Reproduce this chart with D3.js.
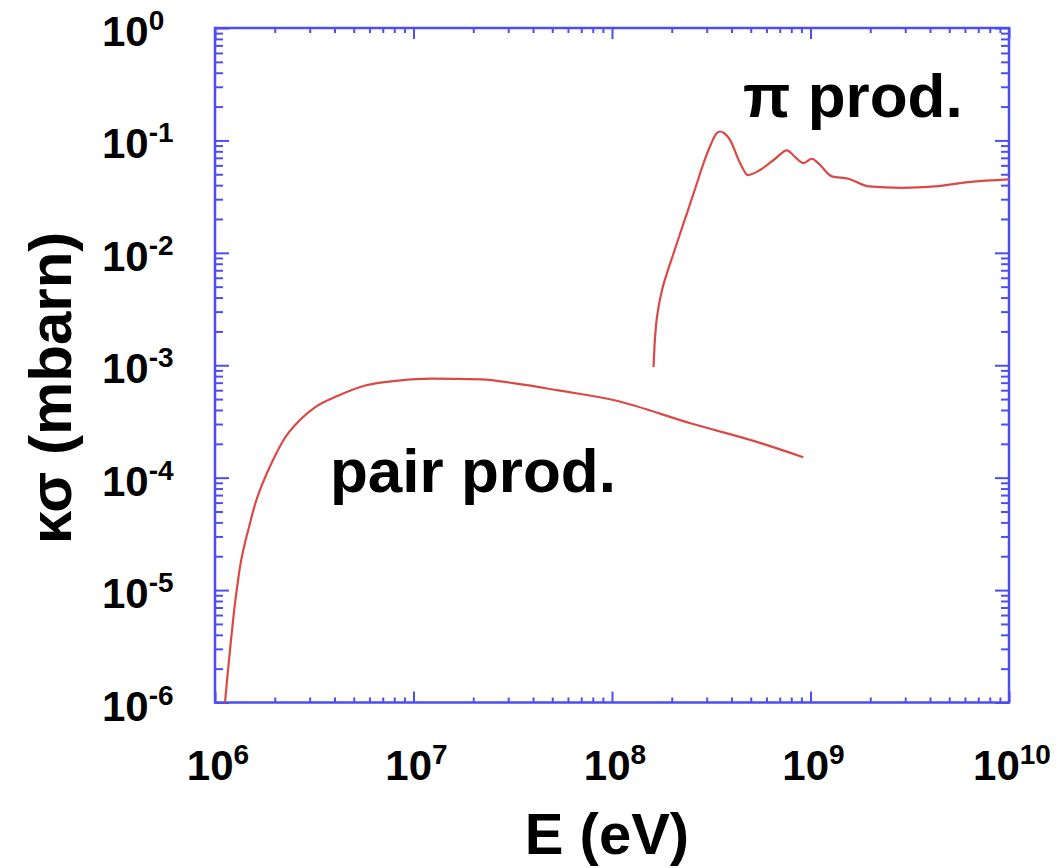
<!DOCTYPE html>
<html>
<head>
<meta charset="utf-8">
<script src="https://cdn.jsdelivr.net/npm/d3@7"></script>
<style>
  html, body { margin: 0; padding: 0; background: #ffffff; }
  svg { display: block; }
  text { font-family: "Liberation Sans", Arial, Helvetica, sans-serif; font-weight: bold; fill: #000; }
</style>
</head>
<body>
<svg id="chart" width="1062" height="868"></svg>
<script>
// ---- Data ----
const pairEnergy = [1.123e6, 1.163e6, 1.204e6, 1.246e6, 1.291e6, 1.336e6, 1.400e6, 1.484e6, 1.572e6, 1.685e6,
                    1.828e6, 2.006e6, 2.20e6, 2.68e6, 3.2e6, 4.19e6, 5.71e6, 8.4e6, 1.23e7, 2.2e7,
                    3.25e7, 5.37e7, 1.04e8, 2.51e8, 5.47e8, 9.2e8];
const pairSigma  = [1.0e-6, 1.945e-6, 3.6e-6, 6.38e-6, 1.045e-5, 1.60e-5, 2.42e-5, 3.64e-5, 5.39e-5, 7.77e-5,
                    1.10e-4, 1.56e-4, 2.12e-4, 3.26e-4, 4.24e-4, 5.38e-4, 6.6e-4, 7.3e-4, 7.6e-4, 7.5e-4,
                    6.9e-4, 5.97e-4, 4.86e-4, 3.03e-4, 2.06e-4, 1.52e-4];

const pionEnergy = [1.619e8, 1.638e8, 1.667e8, 1.716e8, 1.786e8, 1.893e8, 2.029e8, 2.20e8, 2.415e8, 2.65e8,
                    2.907e8, 3.153e8, 3.341e8, 3.50e8, 3.666e8, 3.93e8, 4.415e8, 4.84e8, 5.57e8, 6.64e8,
                    7.60e8, 8.38e8, 9.22e8, 1.016e9, 1.10e9, 1.28e9, 1.55e9, 1.96e9, 2.88e9, 4.25e9,
                    6.25e9, 1.0e10];
const pionSigma  = [9.64e-4, 1.514e-3, 2.28e-3, 3.30e-3, 4.67e-3, 6.61e-3, 9.57e-3, 1.47e-2, 2.40e-2, 3.93e-2,
                    6.43e-2, 9.29e-2, 0.114, 0.120, 0.1164, 0.101, 0.063, 0.0492, 0.0546, 0.0687,
                    0.0815, 0.071, 0.0628, 0.0687, 0.0621, 0.0479, 0.0456, 0.039, 0.0379, 0.039,
                    0.0426, 0.0450];

const xTickExponents = [6, 7, 8, 9, 10];
const yTickExponents = [0, -1, -2, -3, -4, -5, -6];
const xLabel = "E (eV)";
const yLabel = "κσ (mbarn)";
const annotationTexts = ["π prod.", "pair prod."];

// ---- Layout ----
const svg = d3.select("#chart");
const plotLeft = 215, plotRight = 1009, plotTop = 28, plotBottom = 702.5;
const x = d3.scaleLog().domain([1e6, 1e10]).range([plotLeft, plotRight]);
const y = d3.scaleLog().domain([1e-6, 1]).range([plotBottom, plotTop]);

const frameColor = "#4d4df2";
const curveColor = "#d94a46";

function logTicks(e0, e1) {
  const major = [], minor = [];
  for (let e = e0; e <= e1; e++) {
    major.push(Math.pow(10, e));
    if (e < e1) for (let m = 2; m <= 9; m++) minor.push(m * Math.pow(10, e));
  }
  return { major, minor };
}
const xt = logTicks(6, 10);
const yt = logTicks(-6, 0);

const g = svg.append("g");

function styleAxis(sel) {
  sel.select(".domain").remove();
  sel.selectAll(".tick line").attr("stroke", frameColor).attr("stroke-width", 2);
}
const axes = [
  [d3.axisBottom(x).tickValues(xt.minor).tickSize(-5), `translate(0,${plotBottom})`],
  [d3.axisBottom(x).tickValues(xt.major).tickSize(-11), `translate(0,${plotBottom})`],
  [d3.axisTop(x).tickValues(xt.minor).tickSize(-5), `translate(0,${plotTop})`],
  [d3.axisTop(x).tickValues(xt.major).tickSize(-11), `translate(0,${plotTop})`],
  [d3.axisLeft(y).tickValues(yt.minor).tickSize(-8), `translate(${plotLeft},0)`],
  [d3.axisLeft(y).tickValues(yt.major).tickSize(-14), `translate(${plotLeft},0)`],
  [d3.axisRight(y).tickValues(yt.minor).tickSize(-8), `translate(${plotRight},0)`],
  [d3.axisRight(y).tickValues(yt.major).tickSize(-14), `translate(${plotRight},0)`]
];
axes.forEach(([ax, tr]) => {
  g.append("g").attr("transform", tr).call(ax.tickFormat("")).call(styleAxis);
});

// Frame
g.append("rect")
  .attr("x", plotLeft).attr("y", plotTop)
  .attr("width", plotRight - plotLeft).attr("height", plotBottom - plotTop)
  .attr("fill", "none").attr("stroke", frameColor).attr("stroke-width", 2.5);

// Curves
const line = d3.line()
  .x(d => x(d[0]))
  .y(d => y(d[1]))
  .curve(d3.curveMonotoneX);

const pairData = pairEnergy.map((e, i) => [e, pairSigma[i]]);
const pionData = pionEnergy.map((e, i) => [e, pionSigma[i]]);

g.append("path").datum(pairData).attr("d", line)
  .attr("fill", "none").attr("stroke", curveColor).attr("stroke-width", 2.2);
g.append("path").datum(pionData).attr("d", line)
  .attr("fill", "none").attr("stroke", curveColor).attr("stroke-width", 2.2);

// X tick labels
xTickExponents.forEach(e => {
  const t = g.append("text")
    .attr("x", x(Math.pow(10, e)) + 3)
    .attr("y", 780)
    .attr("text-anchor", "middle")
    .style("font-size", "42px");
  t.append("tspan").text("10");
  t.append("tspan").text(e).attr("dy", -16).style("font-size", "28px");
});

// Y tick labels
yTickExponents.forEach(e => {
  const t = g.append("text")
    .attr("x", 102)
    .attr("y", y(Math.pow(10, e)) + 18)
    .attr("text-anchor", "start")
    .style("font-size", "42px");
  t.append("tspan").text("10");
  t.append("tspan").text(e).attr("dy", -16).style("font-size", "28px");
});

// Axis titles
g.append("text")
  .attr("x", 607).attr("y", 854)
  .attr("text-anchor", "middle")
  .style("font-size", "58px")
  .text(xLabel);

g.append("text")
  .attr("transform", `translate(71,388) rotate(-90)`)
  .attr("text-anchor", "middle")
  .style("font-size", "60px")
  .text(yLabel);

// Annotations
g.append("text").attr("x", 743).attr("y", 117)
  .style("font-size", "62px").text(annotationTexts[0]);
g.append("text").attr("x", 330).attr("y", 492)
  .style("font-size", "62px").text(annotationTexts[1]);
</script>
</body>
</html>
